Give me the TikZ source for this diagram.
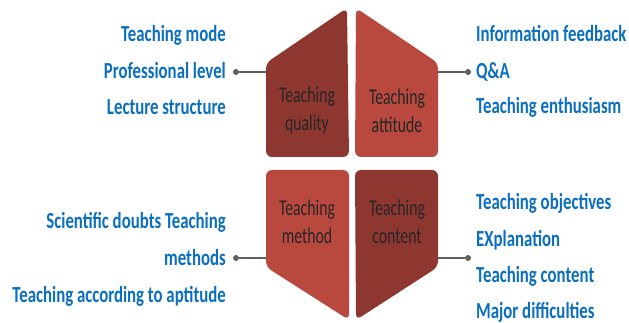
\documentclass[tikz,border=0pt]{standalone}
\usepackage{fontspec}
\setmainfont{Carlito}
\newfontfamily\narrowfont[FakeStretch=0.73]{Carlito}
\newfontfamily\petalfont[FakeStretch=0.70]{Carlito}
\definecolor{darkred}{HTML}{8E3730}
\definecolor{lightred}{HTML}{B9493F}
\definecolor{itemblue}{HTML}{0A6FC0}
\definecolor{linkgray}{HTML}{606060}
\begin{document}
\begin{tikzpicture}[x=1pt,y=-1pt,
  petal/.style={rounded corners=6pt, draw=none},
  inlabel/.style={align=center, font=\petalfont\fontsize{22.5}{28}\selectfont, text=black!85},
  itemL/.style={anchor=base east, font=\narrowfont\bfseries\fontsize{23}{26}\selectfont, text=itemblue, inner sep=0pt},
  itemR/.style={anchor=base west, font=\narrowfont\bfseries\fontsize{23}{26}\selectfont, text=itemblue, inner sep=0pt},
  dot/.style={circle, fill=linkgray, inner sep=0pt, minimum size=6pt},
  link/.style={draw=linkgray, line width=1.2pt}]
\useasboundingbox (0,0) rectangle (629,323);

% four petals
\fill[petal, darkred] (266,157) -- (266,63) -- (347,8) -- (349,157) -- cycle;
\fill[petal, lightred] (355,157) -- (356,8) -- (438,63) -- (438,157) -- cycle;
\fill[petal, lightred] (266,170) -- (349,170) -- (349,320) -- (266,267) -- cycle;
\fill[petal, darkred] (355,170) -- (438,170) -- (438,267) -- (356,320) -- cycle;

\node[inlabel] (quality) at (307,111) {Teaching\\quality};
\node[inlabel] (attitude) at (397,111) {Teaching\\attitude};
\node[inlabel] (method) at (307,222) {Teaching\\method};
\node[inlabel] (content) at (397,222) {Teaching\\content};

% anchor points on the petal edges
\coordinate (qEdge) at (266,72);
\coordinate (aEdge) at (438,72);
\coordinate (mEdge) at (266,258);
\coordinate (cEdge) at (438,258);

% dots and connectors
\node[dot] (qDot) at (236,72) {};
\node[dot] (aDot) at (468,72) {};
\node[dot] (mDot) at (236,258) {};
\node[dot] (cDot) at (468,258) {};
\draw[link] (qDot) -- (qEdge);
\draw[link] (aDot) -- (aEdge);
\draw[link] (mDot) -- (mEdge);
\draw[link] (cDot) -- (cEdge);

% item lists
\node[itemL] (q1) at (226,42) {Teaching mode};
\node[itemL] (q2) at (226,79) {Professional level};
\node[itemL] (q3) at (226,115) {Lecture structure};

\node[itemR] (a1) at (476,42) {Information feedback};
\node[itemR] (a2) at (476,79) {Q\&A};
\node[itemR] (a3) at (476,114) {Teaching enthusiasm};

\node[itemL] (m1) at (226,229) {Scientific doubts Teaching};
\node[itemL] (m2) at (226,265) {methods};
\node[itemL] (m3) at (226,302) {Teaching according to aptitude};

\node[itemR] (c1) at (476,210) {Teaching objectives};
\node[itemR] (c2) at (476,247) {EXplanation};
\node[itemR] (c3) at (476,282) {Teaching content};
\node[itemR] (c4) at (476,318) {Major difficulties};
\end{tikzpicture}
\end{document}
